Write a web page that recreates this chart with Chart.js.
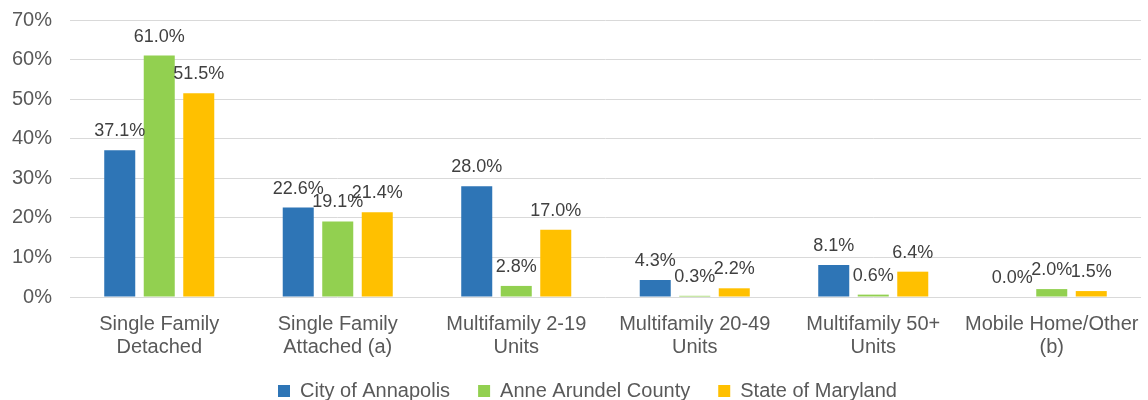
<!DOCTYPE html>
<html>
<head>
<meta charset="utf-8">
<script src="https://cdn.jsdelivr.net/npm/chart.js@4"></script>
<style>
  html, body { margin: 0; padding: 0; background: #fff; }
  #wrap { width: 1148px; height: 400px; }
</style>
</head>
<body>
<div id="wrap"><canvas id="chart"></canvas></div>
<script>
const categories = [
  ['Single Family', 'Detached'],
  ['Single Family', 'Attached (a)'],
  ['Multifamily 2-19', 'Units'],
  ['Multifamily 20-49', 'Units'],
  ['Multifamily 50+', 'Units'],
  ['Mobile Home/Other', '(b)']
]
const annapolis = [37.1, 22.6, 28.0, 4.3, 8.1, 0.0]
const anneArundel = [61.0, 19.1, 2.8, 0.3, 0.6, 2.0]
const maryland = [51.5, 21.4, 17.0, 2.2, 6.4, 1.5]
const seriesNames = ['City of Annapolis', 'Anne Arundel County', 'State of Maryland']
const yTicks = [0, 10, 20, 30, 40, 50, 60, 70]

const FONT = '"Liberation Sans", Arial, sans-serif'

// draws the value over each bar
const valueLabels = {
  id: 'valueLabels',
  afterDatasetsDraw(chart) {
    const ctx = chart.ctx
    ctx.save()
    ctx.font = '18px ' + FONT
    ctx.fillStyle = '#404040'
    ctx.textAlign = 'center'
    ctx.textBaseline = 'alphabetic'
    chart.data.datasets.forEach((ds, i) => {
      chart.getDatasetMeta(i).data.forEach((bar, j) => {
        ctx.fillText(ds.data[j].toFixed(1) + '%', bar.x, bar.y - 14)
      })
    })
    ctx.restore()
  }
}

// legend sits a bit right of centre in the original,
// and the x labels are allowed to hang into the legend band
const tweakLayout = {
  id: 'tweakLayout',
  afterLayout(chart) {
    chart.legend.left += 34
    chart.scales.x.bottom += 24
  }
}

const ctx = document.getElementById('chart')
new Chart(ctx, {
  type: 'bar',
  data: {
    labels: categories,
    datasets: [
      { label: seriesNames[0], data: annapolis, backgroundColor: '#2E75B6' },
      { label: seriesNames[1], data: anneArundel, backgroundColor: '#92D050' },
      { label: seriesNames[2], data: maryland, backgroundColor: '#FFC000' }
    ]
  },
  options: {
    responsive: true,
    maintainAspectRatio: false,
    animation: false,
    datasets: { bar: { categoryPercentage: 0.664, barPercentage: 0.785 } },
    layout: { padding: { top: 20, right: 7, left: 0, bottom: -11 } },
    scales: {
      x: {
        afterFit: s => { s.height = 56 },
        grid: { display: false },
        border: { display: false },
        ticks: {
          autoSkip: false, maxRotation: 0, padding: 8,
          color: '#595959',
          font: { family: FONT, size: 20, lineHeight: 1.15 }
        }
      },
      y: {
        min: yTicks[0],
        max: yTicks[yTicks.length - 1],
        afterFit: s => { s.width = 70; s.paddingTop = 10; s.paddingBottom = 10 },
        afterBuildTicks: s => { s.ticks = yTicks.map(v => ({ value: v })) },
        grid: { color: '#D9D9D9', lineWidth: 1, drawTicks: false },
        border: { display: false },
        ticks: {
          padding: 18,
          color: '#595959',
          font: { family: FONT, size: 20 },
          callback: v => v + '%'
        }
      }
    },
    plugins: {
      legend: {
        position: 'bottom',
        labels: {
          boxWidth: 12, boxHeight: 12, padding: 28,
          color: '#595959',
          font: { family: FONT, size: 20 }
        }
      },
      tooltip: { enabled: false }
    }
  },
  plugins: [valueLabels, tweakLayout]
})
</script>
</body>
</html>
